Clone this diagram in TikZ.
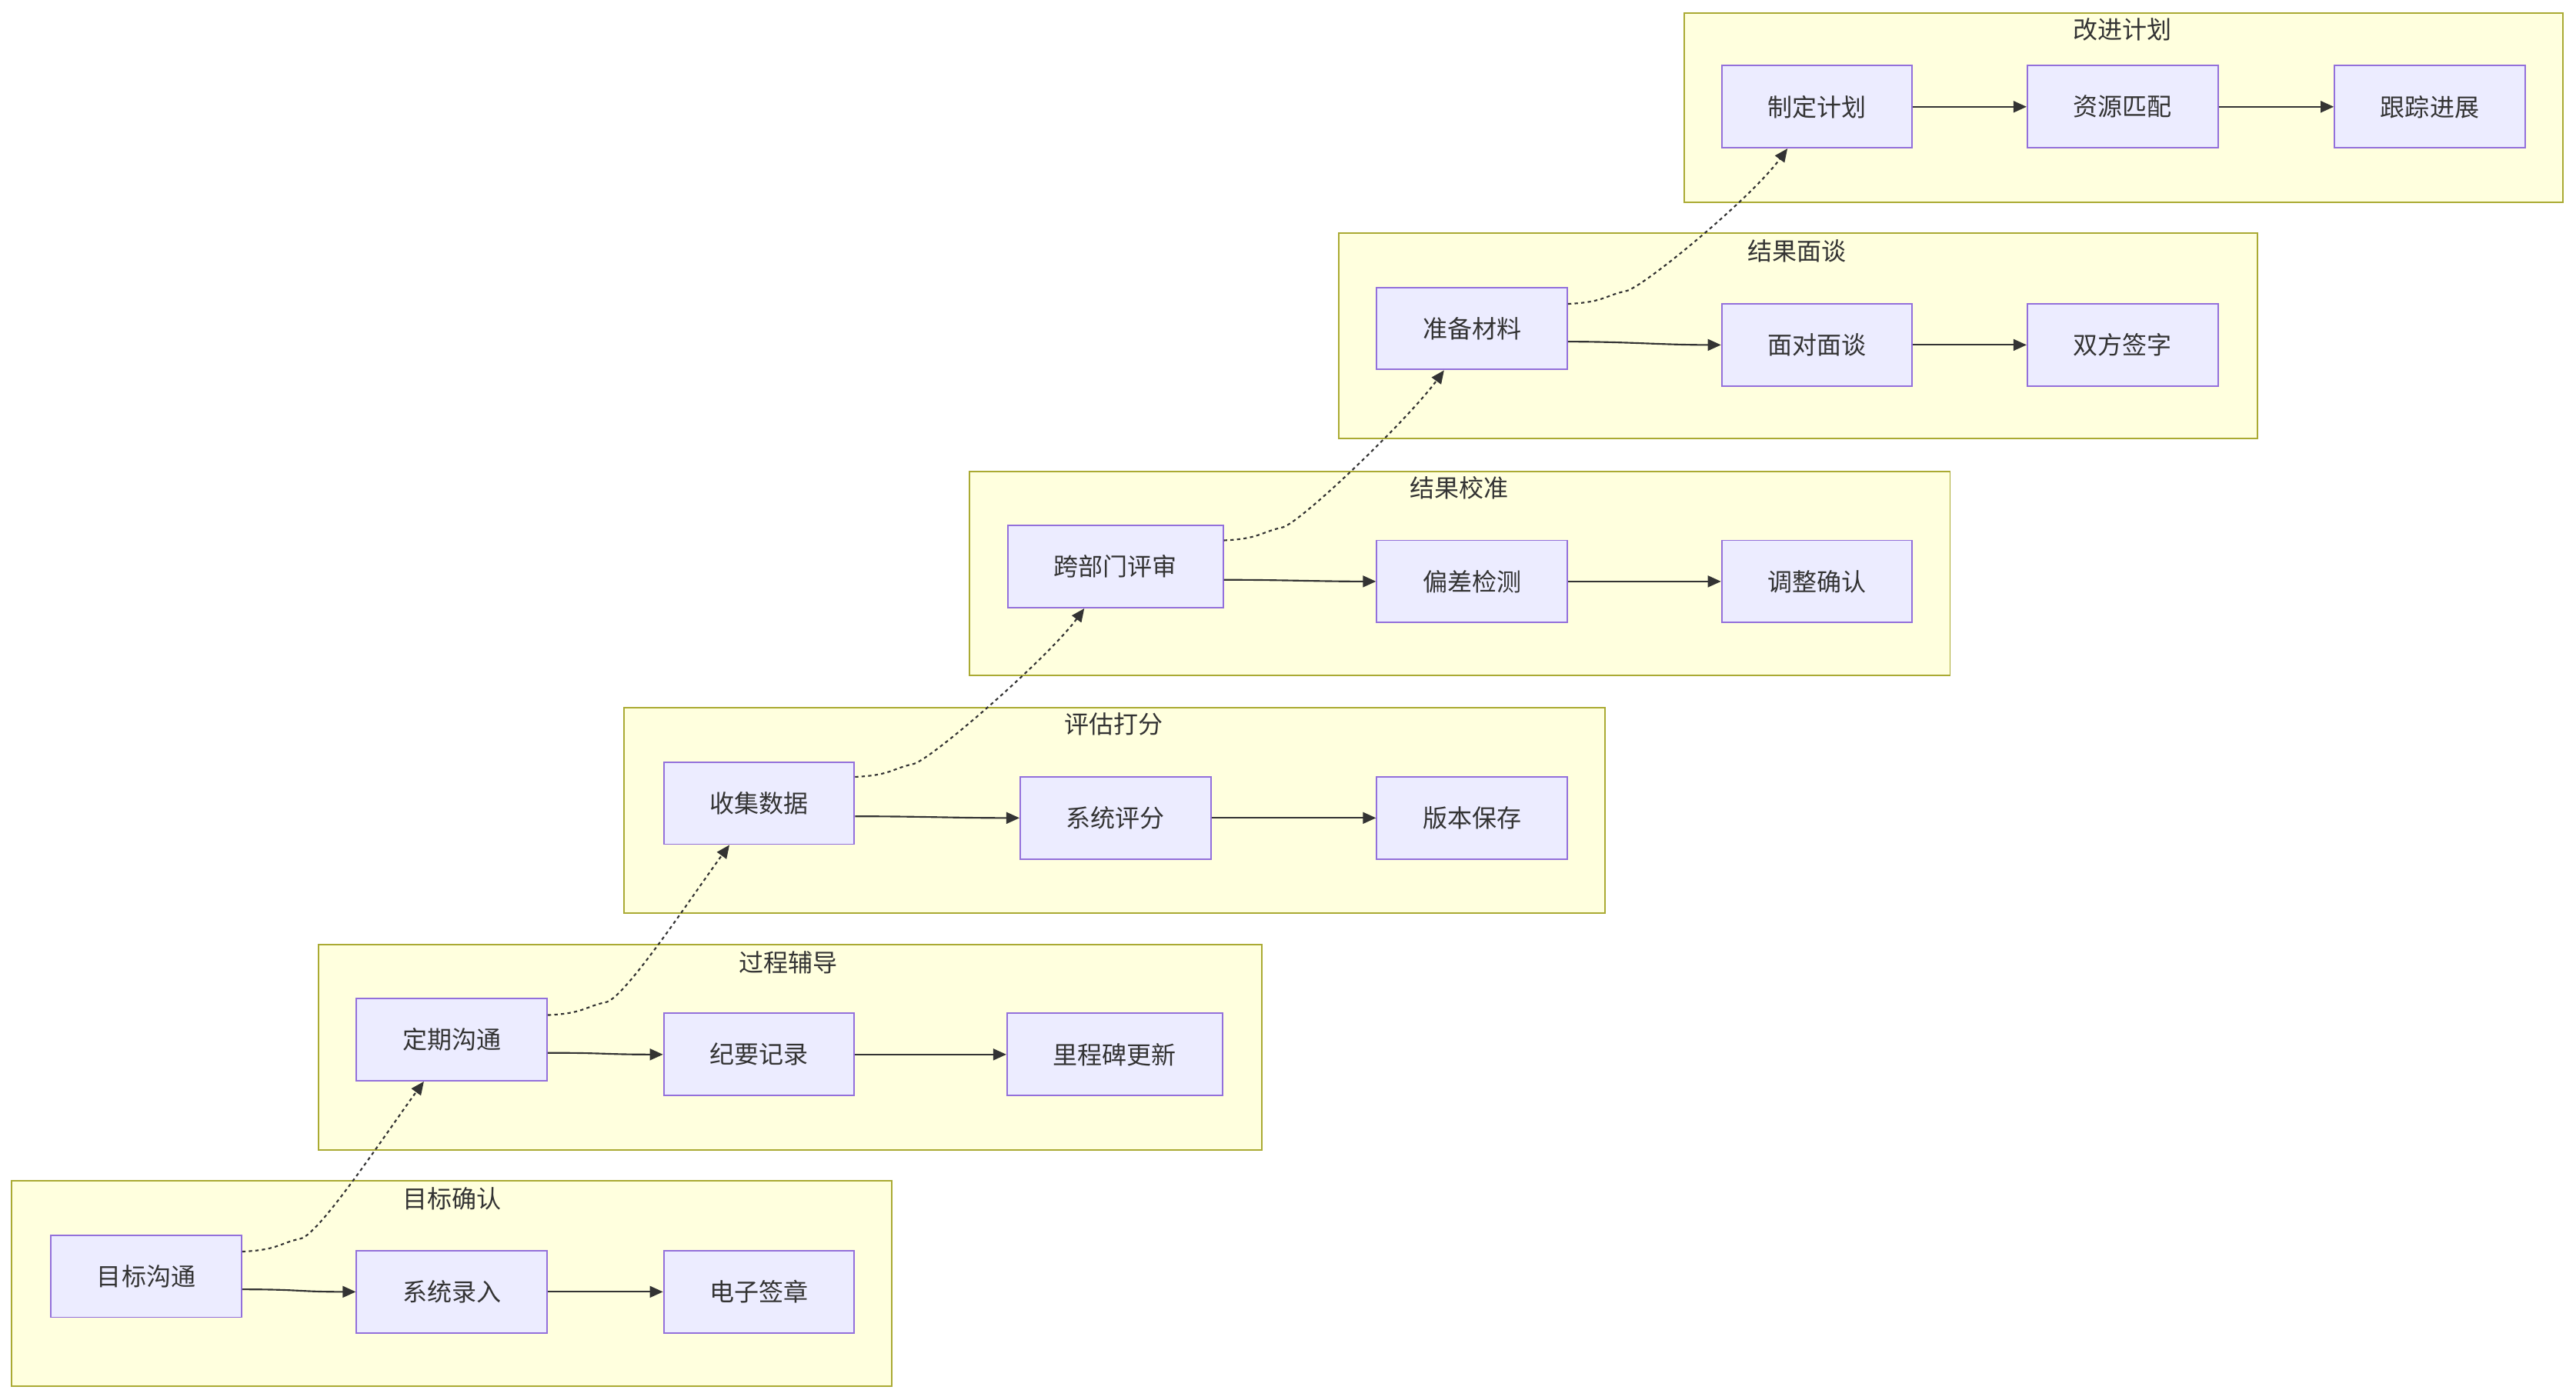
\documentclass[tikz,border=0pt]{standalone}
\usepackage{fontspec}
\newfontfamily\cjk{Noto Sans CJK SC}
\usetikzlibrary{arrows.meta,calc}
\definecolor{nodefill}{HTML}{ECECFF}
\definecolor{nodeline}{HTML}{9370DB}
\definecolor{clfill}{HTML}{FFFFDE}
\definecolor{clline}{HTML}{AAAA33}
\definecolor{ink}{HTML}{333333}
\begin{document}
\begin{tikzpicture}[x=1pt,y=-1pt,
 box/.style={draw=nodeline,fill=nodefill,line width=0.9pt,minimum height=50pt,minimum width=116pt,inner sep=0pt,font=\cjk\fontsize{15}{18}\selectfont,text=ink},
 wide/.style={box,minimum width=131pt},
 cluster/.style={draw=clline,fill=clfill,line width=0.9pt,inner sep=0pt},
 ctitle/.style={font=\cjk\fontsize{15}{18}\selectfont,text=ink},
 flow/.style={draw=ink,line width=1pt,-{Triangle[length=8pt,width=7pt]}},
 link/.style={flow,dash pattern=on 2pt off 2pt}]
\useasboundingbox[fill=white] (0,0) rectangle (1568,852);
% clusters
\node[cluster,minimum width=536pt,minimum height=125pt] (k1) at (275,781.5) {};
\node[cluster,minimum width=574pt,minimum height=125pt] (k2) at (481,637.5) {};
\node[cluster,minimum width=597pt,minimum height=125pt] (k3) at (678.5,493.5) {};
\node[cluster,minimum width=597pt,minimum height=124pt] (k4) at (888.5,349) {};
\node[cluster,minimum width=559pt,minimum height=125pt] (k5) at (1094.5,204.5) {};
\node[cluster,minimum width=535pt,minimum height=115pt] (k6) at (1292.5,65.5) {};
\node[ctitle] (t1) at (275,730) {目标确认};
\node[ctitle] (t2) at (480,586) {过程辅导};
\node[ctitle] (t3) at (678,441) {评估打分};
\node[ctitle] (t4) at (888,297) {结果校准};
\node[ctitle] (t5) at (1094,153) {结果面谈};
\node[ctitle] (t6) at (1292,18) {改进计划};
% nodes
\node[box] (a1) at (89,777) {目标沟通};
\node[box] (a2) at (275,786.5) {系统录入};
\node[box] (a3) at (462,786.5) {电子签章};
\node[box] (b1) at (275,633) {定期沟通};
\node[box] (b2) at (462,642) {纪要记录};
\node[wide] (b3) at (678.5,642) {里程碑更新};
\node[box] (c1) at (462,489) {收集数据};
\node[box] (c2) at (679,498) {系统评分};
\node[box] (c3) at (896,498) {版本保存};
\node[wide] (d1) at (679,345) {跨部门评审};
\node[box] (d2) at (896,354) {偏差检测};
\node[box] (d3) at (1106,354) {调整确认};
\node[box] (e1) at (896,200) {准备材料};
\node[box] (e2) at (1106,210) {面对面谈};
\node[box] (e3) at (1292,210) {双方签字};
\node[box] (f1) at (1106,65) {制定计划};
\node[box] (f2) at (1292,65) {资源匹配};
\node[box] (f3) at (1479,65) {跟踪进展};
% solid flows
\draw[flow] ([yshift=-8pt]a1.east) .. controls +(35,0) and +(-35,0) .. (a2.west);
\draw[flow] (a2) -- (a3);
\draw[flow] ([yshift=-8pt]b1.east) .. controls +(35,0) and +(-35,0) .. (b2.west);
\draw[flow] (b2) -- (b3);
\draw[flow] ([yshift=-8pt]c1.east) .. controls +(40,0) and +(-40,0) .. (c2.west);
\draw[flow] (c2) -- (c3);
\draw[flow] ([yshift=-8pt]d1.east) .. controls +(35,0) and +(-35,0) .. (d2.west);
\draw[flow] (d2) -- (d3);
\draw[flow] ([yshift=-8pt]e1.east) .. controls +(35,0) and +(-35,0) .. (e2.west);
\draw[flow] (e2) -- (e3);
\draw[flow] (f1) -- (f2);
\draw[flow] (f2) -- (f3);
% dotted links
\draw[link] ([yshift=15pt]a1.east) .. controls +(22,-1) and +(-14,3) .. +(36,-8) .. controls +(12,-4) and +(-22,30) .. ([xshift=-17pt]b1.south);
\draw[link] ([yshift=15pt]b1.east) .. controls +(22,-1) and +(-14,3) .. +(36,-8) .. controls +(12,-4) and +(-22,30) .. ([xshift=-18pt]c1.south);
\draw[link] ([yshift=16pt]c1.east) .. controls +(22,-1) and +(-14,3) .. +(36,-8) .. controls +(12,-4) and +(-22,30) .. ([xshift=-19pt]d1.south);
\draw[link] ([yshift=16pt]d1.east) .. controls +(22,-1) and +(-14,3) .. +(36,-8) .. controls +(12,-4) and +(-22,30) .. ([xshift=-17pt]e1.south);
\draw[link] ([yshift=15pt]e1.east) .. controls +(22,-1) and +(-14,3) .. +(36,-8) .. controls +(12,-4) and +(-22,30) .. ([xshift=-18pt]f1.south);
\end{tikzpicture}
\end{document}
